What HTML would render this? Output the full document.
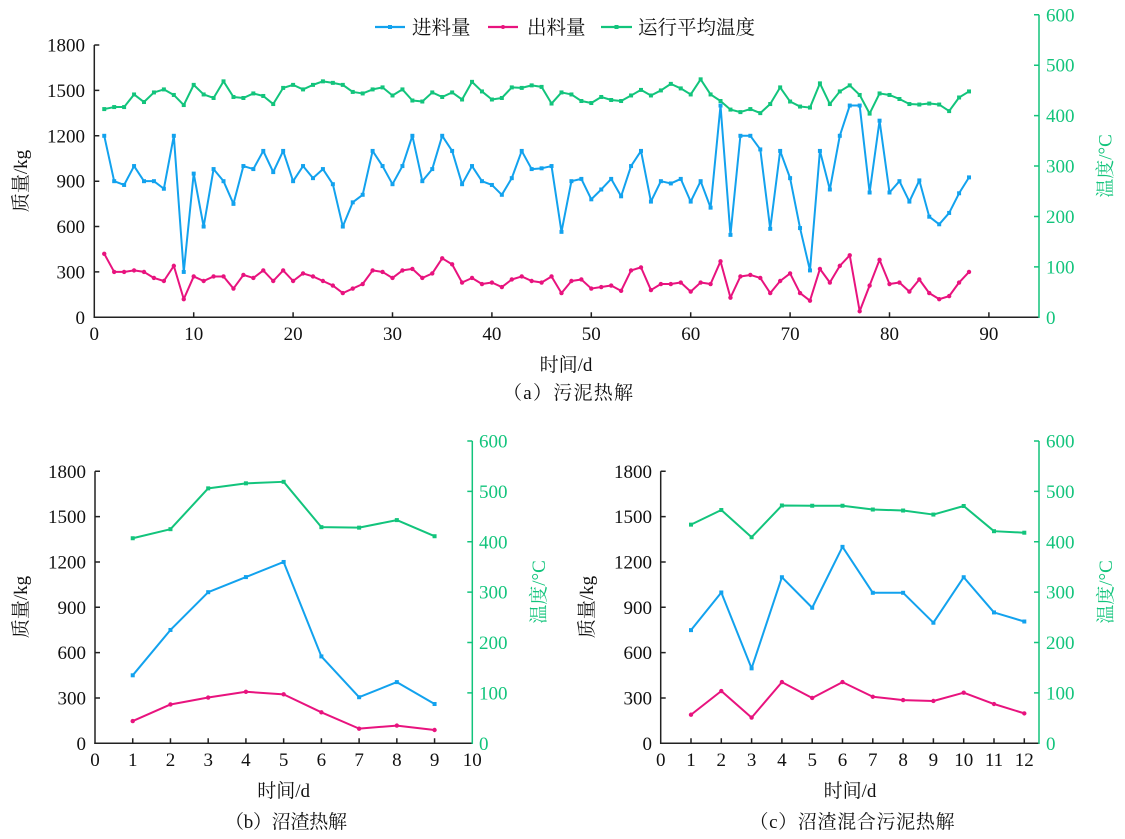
<!DOCTYPE html>
<html><head><meta charset="utf-8">
<style>
html,body{margin:0;padding:0;background:#fff;}
svg{display:block;}
.t{font-family:"Liberation Serif","Noto Serif CJK SC",serif;font-size:19px;fill:#111;}
.g{fill:#12c47c;}
.c{font-family:"Liberation Serif","Noto Serif CJK SC",serif;font-size:19.5px;fill:#111;}
</style></head><body>
<svg width="1125" height="839" viewBox="0 0 1125 839" xmlns="http://www.w3.org/2000/svg">
<rect width="1125" height="839" fill="#fff"/>
<defs>
<marker id="ab" markerUnits="userSpaceOnUse" overflow="visible" refX="0" refY="0"><rect x="-0.2" y="-13.2" width="0.4" height="26.4" fill="#12a2ee"/></marker>
<marker id="ap" markerUnits="userSpaceOnUse" overflow="visible" refX="0" refY="0"><ellipse cx="0" cy="0" rx="0.22" ry="14.5" fill="#e8137e"/></marker>
<marker id="ag" markerUnits="userSpaceOnUse" overflow="visible" refX="0" refY="0"><rect x="-0.2" y="-3.97" width="0.4" height="7.93" fill="#12c47c"/></marker>
<marker id="bb" markerUnits="userSpaceOnUse" overflow="visible" refX="0" refY="0"><rect x="-0.053" y="-13.24" width="0.106" height="26.47" fill="#12a2ee"/></marker>
<marker id="bp" markerUnits="userSpaceOnUse" overflow="visible" refX="0" refY="0"><ellipse cx="0" cy="0" rx="0.058" ry="14.5" fill="#e8137e"/></marker>
<marker id="bg" markerUnits="userSpaceOnUse" overflow="visible" refX="0" refY="0"><rect x="-0.053" y="-3.97" width="0.106" height="7.94" fill="#12c47c"/></marker>
<marker id="cb" markerUnits="userSpaceOnUse" overflow="visible" refX="0" refY="0"><rect x="-0.066" y="-13.24" width="0.132" height="26.47" fill="#12a2ee"/></marker>
<marker id="cp" markerUnits="userSpaceOnUse" overflow="visible" refX="0" refY="0"><ellipse cx="0" cy="0" rx="0.072" ry="14.5" fill="#e8137e"/></marker>
<marker id="cg" markerUnits="userSpaceOnUse" overflow="visible" refX="0" refY="0"><rect x="-0.066" y="-3.97" width="0.132" height="7.94" fill="#12c47c"/></marker>
</defs>

<!-- ===================== Chart (a) ===================== -->
<g stroke="#222" stroke-width="1.5" fill="none">
<line x1="94.3" y1="45" x2="94.3" y2="318"/>
<line x1="93.6" y1="317.3" x2="1039" y2="317.3"/>
<path d="M94.3 271.9h5M94.3 226.55h5M94.3 181.2h5M94.3 135.8h5M94.3 90.4h5M94.3 45.05h5"/>
<path d="M193.7 317.3v-5M293.1 317.3v-5M392.5 317.3v-5M491.9 317.3v-5M591.3 317.3v-5M690.7 317.3v-5M790.1 317.3v-5M889.5 317.3v-5M988.9 317.3v-5"/>
</g>
<g stroke="#12c47c" stroke-width="1.5" fill="none">
<line x1="1039" y1="14.8" x2="1039" y2="318"/>
<path d="M1039 14.8h-5M1039 65.2h-5M1039 115.6h-5M1039 166.05h-5M1039 216.5h-5M1039 266.9h-5"/>
</g>

<g class="t" text-anchor="end">
<text x="85" y="323.8">0</text><text x="85" y="278.4">300</text><text x="85" y="233.05">600</text><text x="85" y="187.7">900</text><text x="85" y="142.3">1200</text><text x="85" y="96.9">1500</text><text x="85" y="51.5">1800</text>
</g>
<g class="t g">
<text x="1046" y="21.3">600</text><text x="1046" y="71.7">500</text><text x="1046" y="122.1">400</text><text x="1046" y="172.55">300</text><text x="1046" y="223">200</text><text x="1046" y="273.4">100</text><text x="1046" y="323.8">0</text>
</g>
<g class="t" text-anchor="middle">
<text x="94.3" y="340">0</text><text x="193.7" y="340">10</text><text x="293.1" y="340">20</text><text x="392.5" y="340">30</text><text x="491.9" y="340">40</text><text x="591.3" y="340">50</text><text x="690.7" y="340">60</text><text x="790.1" y="340">70</text><text x="889.5" y="340">80</text><text x="988.9" y="340">90</text>
</g>

<g transform="matrix(9.94 0 0 -0.50417 94.3 317.3)">
<polyline fill="none" stroke="#12c47c" stroke-width="2" vector-effect="non-scaling-stroke" stroke-linejoin="round" marker-start="url(#ag)" marker-mid="url(#ag)" marker-end="url(#ag)"
points="1,413 2,417 3,417 4,442 5,427 6,446 7,452 8,441 9,421 10,461 11,442 12,435 13,468 14,437 15,435 16,444 17,439 18,423 19,455 20,461 21,452 22,461 23,468 24,465 25,461 26,447 27,444 28,452 29,456 30,440 31,452 32,430 33,428 34,446 35,437 36,446 37,432 38,467 39,448 40,432 41,435 42,456 43,455 44,460 45,457 46,424 47,446 48,442 49,429 50,425 51,437 52,431 53,429 54,440 55,451 56,440 57,450 58,463 59,454 60,442 61,472 62,442 63,429 64,412 65,407 66,413 67,405 68,423 69,456 70,428 71,418 72,416 73,464 74,423 75,448 76,460 77,441 78,404 79,444 80,441 81,433 82,423 83,422 84,424 85,422 86,409 87,436 88,448"/>
</g>
<g transform="matrix(9.94 0 0 -0.15125 94.3 317.3)">
<polyline fill="none" stroke="#12a2ee" stroke-width="2" vector-effect="non-scaling-stroke" stroke-linejoin="round" marker-start="url(#ab)" marker-mid="url(#ab)" marker-end="url(#ab)"
points="1,1200 2,900 3,875 4,1000 5,900 6,900 7,850 8,1200 9,300 10,950 11,600 12,980 13,900 14,750 15,1000 16,980 17,1100 18,960 19,1100 20,900 21,1000 22,920 23,980 24,880 25,600 26,760 27,810 28,1100 29,1000 30,880 31,1000 32,1200 33,900 34,980 35,1200 36,1100 37,880 38,1000 39,900 40,875 41,810 42,920 43,1100 44,980 45,985 46,1000 47,565 48,900 49,915 50,780 51,845 52,915 53,800 54,1000 55,1100 56,765 57,900 58,885 59,915 60,765 61,900 62,725 63,1400 64,545 65,1200 66,1200 67,1110 68,585 69,1100 70,920 71,590 72,310 73,1100 74,845 75,1200 76,1400 77,1400 78,825 79,1300 80,825 81,900 82,765 83,905 84,665 85,615 86,690 87,820 88,925"/>
<polyline fill="none" stroke="#e8137e" stroke-width="2" vector-effect="non-scaling-stroke" stroke-linejoin="round" marker-start="url(#ap)" marker-mid="url(#ap)" marker-end="url(#ap)"
points="1,420 2,300 3,300 4,310 5,300 6,260 7,240 8,340 9,120 10,270 11,240 12,270 13,270 14,190 15,280 16,260 17,310 18,240 19,310 20,240 21,290 22,270 23,240 24,210 25,160 26,190 27,220 28,310 29,300 30,260 31,310 32,320 33,260 34,290 35,390 36,350 37,230 38,260 39,220 40,230 41,200 42,250 43,270 44,240 45,230 46,270 47,160 48,240 49,250 50,190 51,200 52,210 53,175 54,310 55,330 56,180 57,220 58,220 59,230 60,170 61,230 62,220 63,370 64,130 65,270 66,280 67,260 68,160 69,240 70,290 71,160 72,110 73,320 74,230 75,340 76,410 77,40 78,210 79,380 80,220 81,230 82,170 83,250 84,160 85,120 86,140 87,230 88,300"/>
</g>

<!-- legend -->
<g stroke-width="2.2">
<line x1="375" y1="27" x2="405" y2="27" stroke="#12a2ee"/>
<line x1="488" y1="27" x2="518" y2="27" stroke="#e8137e"/>
<line x1="601" y1="27" x2="632" y2="27" stroke="#12c47c"/>
</g>
<rect x="388" y="25" width="4" height="4" fill="#12a2ee"/>
<circle cx="503" cy="27" r="2" fill="#e8137e"/>
<rect x="614.5" y="25" width="4" height="4" fill="#12c47c"/>
<text class="c" x="412" y="34">进料量</text>
<text class="c" x="527" y="34">出料量</text>
<text class="c" x="638" y="34">运行平均温度</text>

<text class="t" x="566" y="371" text-anchor="middle">时间/d</text>
<text class="t" x="568" y="399" text-anchor="middle" textLength="130" lengthAdjust="spacing">（a）污泥热解</text>
<text class="t" text-anchor="middle" transform="translate(27,181) rotate(-90)">质量/kg</text>
<text class="t g" text-anchor="middle" transform="translate(1111.5,166) rotate(-90)">温度/°C</text>

<!-- ===================== Chart (b) ===================== -->
<g stroke="#222" stroke-width="1.5" fill="none">
<line x1="95" y1="471.3" x2="95" y2="744"/>
<line x1="94.3" y1="743.3" x2="472.3" y2="743.3"/>
<path d="M95 697.97h5M95 652.6h5M95 607.3h5M95 562h5M95 516.6h5M95 471.3h5"/>
<path d="M132.73 743.3v-5M170.46 743.3v-5M208.19 743.3v-5M245.92 743.3v-5M283.65 743.3v-5M321.38 743.3v-5M359.11 743.3v-5M396.84 743.3v-5M434.57 743.3v-5"/>
</g>
<g stroke="#12c47c" stroke-width="1.5" fill="none">
<line x1="472.3" y1="441" x2="472.3" y2="744"/>
<path d="M472.3 441h-5M472.3 491.4h-5M472.3 541.8h-5M472.3 592.15h-5M472.3 642.5h-5M472.3 692.9h-5"/>
</g>
<g class="t" text-anchor="end">
<text x="86" y="749.8">0</text><text x="86" y="704.5">300</text><text x="86" y="659.1">600</text><text x="86" y="613.8">900</text><text x="86" y="568.5">1200</text><text x="86" y="523.1">1500</text><text x="86" y="477.8">1800</text>
</g>
<g class="t g">
<text x="479" y="447.5">600</text><text x="479" y="497.9">500</text><text x="479" y="548.3">400</text><text x="479" y="598.65">300</text><text x="479" y="649">200</text><text x="479" y="699.4">100</text><text x="479" y="749.8">0</text>
</g>
<g class="t" text-anchor="middle">
<text x="95" y="766">0</text><text x="132.73" y="766">1</text><text x="170.46" y="766">2</text><text x="208.19" y="766">3</text><text x="245.92" y="766">4</text><text x="283.65" y="766">5</text><text x="321.38" y="766">6</text><text x="359.11" y="766">7</text><text x="396.84" y="766">8</text><text x="434.57" y="766">9</text><text x="472.3" y="766">10</text>
</g>
<g transform="matrix(37.73 0 0 -0.50383 95 743.3)">
<polyline fill="none" stroke="#12c47c" stroke-width="2" vector-effect="non-scaling-stroke" stroke-linejoin="round" marker-start="url(#bg)" marker-mid="url(#bg)" marker-end="url(#bg)"
points="1,407 2,425 3,506 4,516 5,519 6,429 7,428 8,443 9,411"/>
</g>
<g transform="matrix(37.73 0 0 -0.15111 95 743.3)">
<polyline fill="none" stroke="#12a2ee" stroke-width="2" vector-effect="non-scaling-stroke" stroke-linejoin="round" marker-start="url(#bb)" marker-mid="url(#bb)" marker-end="url(#bb)"
points="1,450 2,750 3,1000 4,1100 5,1200 6,575 7,305 8,405 9,260"/>
<polyline fill="none" stroke="#e8137e" stroke-width="2" vector-effect="non-scaling-stroke" stroke-linejoin="round" marker-start="url(#bp)" marker-mid="url(#bp)" marker-end="url(#bp)"
points="1,147 2,257 3,303 4,341 5,324 6,205 7,97 8,117 9,88"/>
</g>
<text class="t" x="283.6" y="797" text-anchor="middle">时间/d</text>
<text class="t" x="286" y="828" text-anchor="middle" textLength="122" lengthAdjust="spacing">（b）沼渣热解</text>
<text class="t" text-anchor="middle" transform="translate(27,607) rotate(-90)">质量/kg</text>
<text class="t g" text-anchor="middle" transform="translate(545,592) rotate(-90)">温度/°C</text>

<!-- ===================== Chart (c) ===================== -->
<g stroke="#222" stroke-width="1.5" fill="none">
<line x1="660.7" y1="471.3" x2="660.7" y2="744"/>
<line x1="660" y1="743.3" x2="1039" y2="743.3"/>
<path d="M660.7 697.97h5M660.7 652.6h5M660.7 607.3h5M660.7 562h5M660.7 516.6h5M660.7 471.3h5"/>
<path d="M691 743.3v-5M721.3 743.3v-5M751.6 743.3v-5M781.9 743.3v-5M812.2 743.3v-5M842.5 743.3v-5M872.8 743.3v-5M903.1 743.3v-5M933.4 743.3v-5M963.7 743.3v-5M994 743.3v-5M1024.3 743.3v-5"/>
</g>
<g stroke="#12c47c" stroke-width="1.5" fill="none">
<line x1="1039" y1="441" x2="1039" y2="744"/>
<path d="M1039 441h-5M1039 491.4h-5M1039 541.8h-5M1039 592.15h-5M1039 642.5h-5M1039 692.9h-5"/>
</g>
<g class="t" text-anchor="end">
<text x="652" y="749.8">0</text><text x="652" y="704.5">300</text><text x="652" y="659.1">600</text><text x="652" y="613.8">900</text><text x="652" y="568.5">1200</text><text x="652" y="523.1">1500</text><text x="652" y="477.8">1800</text>
</g>
<g class="t g">
<text x="1046" y="447.5">600</text><text x="1046" y="497.9">500</text><text x="1046" y="548.3">400</text><text x="1046" y="598.65">300</text><text x="1046" y="649">200</text><text x="1046" y="699.4">100</text><text x="1046" y="749.8">0</text>
</g>
<g class="t" text-anchor="middle">
<text x="660.7" y="766">0</text><text x="691" y="766">1</text><text x="721.3" y="766">2</text><text x="751.6" y="766">3</text><text x="781.9" y="766">4</text><text x="812.2" y="766">5</text><text x="842.5" y="766">6</text><text x="872.8" y="766">7</text><text x="903.1" y="766">8</text><text x="933.4" y="766">9</text><text x="963.7" y="766">10</text><text x="994" y="766">11</text><text x="1024.3" y="766">12</text>
</g>
<g transform="matrix(30.3 0 0 -0.50383 660.7 743.3)">
<polyline fill="none" stroke="#12c47c" stroke-width="2" vector-effect="non-scaling-stroke" stroke-linejoin="round" marker-start="url(#cg)" marker-mid="url(#cg)" marker-end="url(#cg)"
points="1,434 2,463 3,409 4,472 5,471.5 6,471.5 7,464 8,462 9,454 10,471 11,421 12,418"/>
</g>
<g transform="matrix(30.3 0 0 -0.15111 660.7 743.3)">
<polyline fill="none" stroke="#12a2ee" stroke-width="2" vector-effect="non-scaling-stroke" stroke-linejoin="round" marker-start="url(#cb)" marker-mid="url(#cb)" marker-end="url(#cb)"
points="1,749 2,998 3,496 4,1099 5,897 6,1300 7,996 8,996 9,798 10,1099 11,866 12,806"/>
<polyline fill="none" stroke="#e8137e" stroke-width="2" vector-effect="non-scaling-stroke" stroke-linejoin="round" marker-start="url(#cp)" marker-mid="url(#cp)" marker-end="url(#cp)"
points="1,189 2,346 3,170 4,405 5,300 6,405 7,308 8,286 9,280 10,335 11,260 12,198"/>
</g>
<text class="t" x="850" y="797" text-anchor="middle">时间/d</text>
<text class="t" x="852" y="828" text-anchor="middle" textLength="205" lengthAdjust="spacing">（c）沼渣混合污泥热解</text>
<text class="t" text-anchor="middle" transform="translate(593,607) rotate(-90)">质量/kg</text>
<text class="t g" text-anchor="middle" transform="translate(1112,592) rotate(-90)">温度/°C</text>
</svg>
</body></html>
